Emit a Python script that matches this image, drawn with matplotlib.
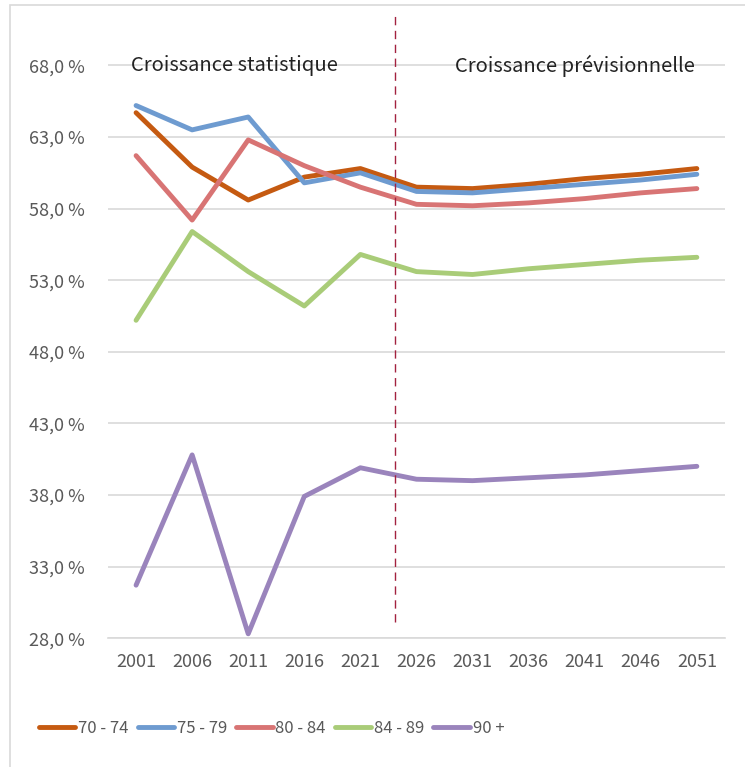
import numpy as np
import matplotlib.pyplot as plt
from matplotlib.patches import Rectangle

plt.rcParams['font.family'] = ['Noto Sans CJK JP', 'DejaVu Sans']

# data
years = ['2001', '2006', '2011', '2016', '2021', '2026', '2031', '2036', '2041', '2046', '2051']
age_70_74 = [64.7, 60.9, 58.6, 60.2, 60.8, 59.5, 59.4, 59.7, 60.1, 60.4, 60.8]
age_75_79 = [65.2, 63.5, 64.4, 59.8, 60.5, 59.2, 59.1, 59.4, 59.7, 60.0, 60.4]
age_80_84 = [61.7, 57.2, 62.8, 61.0, 59.5, 58.3, 58.2, 58.4, 58.7, 59.1, 59.4]
age_84_89 = [50.2, 56.4, 53.6, 51.2, 54.8, 53.6, 53.4, 53.8, 54.1, 54.4, 54.6]
age_90_plus = [31.7, 40.8, 28.3, 37.9, 39.9, 39.1, 39.0, 39.2, 39.4, 39.7, 40.0]

labels = ['70 - 74', '75 - 79', '80 - 84', '84 - 89', '90 +']
colors = ['#C55A11', '#6E9BD0', '#D87474', '#A9CC78', '#9A84BC']
series = [age_70_74, age_75_79, age_80_84, age_84_89, age_90_plus]

fig = plt.figure(figsize=(7.45, 7.67), dpi=100)
ax = fig.add_axes([0.145, 0.168, 0.828, 0.812])

x = np.arange(len(years))
for vals, lab, col in zip(series, labels, colors):
    ax.plot(x, vals, color=col, lw=3.5, label=lab, solid_capstyle='round')

ax.set_xlim(-0.5, len(years) - 0.5)
ax.set_ylim(28, 71.5)
yt = np.arange(28, 69, 5)
ax.set_yticks(yt)
ax.set_yticklabels([f'{v:.1f}'.replace('.', ',') + ' %' for v in yt])
ax.set_xticks(x)
ax.set_xticklabels(years)
ax.tick_params(axis='both', length=0, labelsize=13, colors='#595959')
ax.tick_params(axis='y', pad=17)
ax.tick_params(axis='x', pad=11)
ax.grid(axis='y', color='#D9D9D9', lw=1.2)
ax.set_axisbelow(True)
for s in ['top', 'right', 'left']:
    ax.spines[s].set_visible(False)
ax.spines['bottom'].set_color('#D9D9D9')
ax.spines['bottom'].set_linewidth(1.2)

# separation between observed and projected values
ax.vlines(4.62, 29.1, 71.7, colors='#A3223F', linestyles=(0, (6, 4)), lw=1, clip_on=False)

ax.text(1.75, 68, 'Croissance statistique', fontsize=14.5, color='#222222', va='center', ha='center')
ax.text(7.82, 68, 'Croissance prévisionnelle', fontsize=14.5, color='#222222', va='center', ha='center')

ax.legend(loc='center', bbox_to_anchor=(0.265, -0.145), ncol=5, frameon=False,
          fontsize=12, labelcolor='#595959', handlelength=2.2, handletextpad=0.15,
          columnspacing=0.55)

# chart frame
fig.patches.append(Rectangle((0.013, -0.1), 1.2, 1.093, transform=fig.transFigure,
                             fill=False, edgecolor='#D9D9D9', lw=1.2))

fig.savefig('out.png', dpi=100)
